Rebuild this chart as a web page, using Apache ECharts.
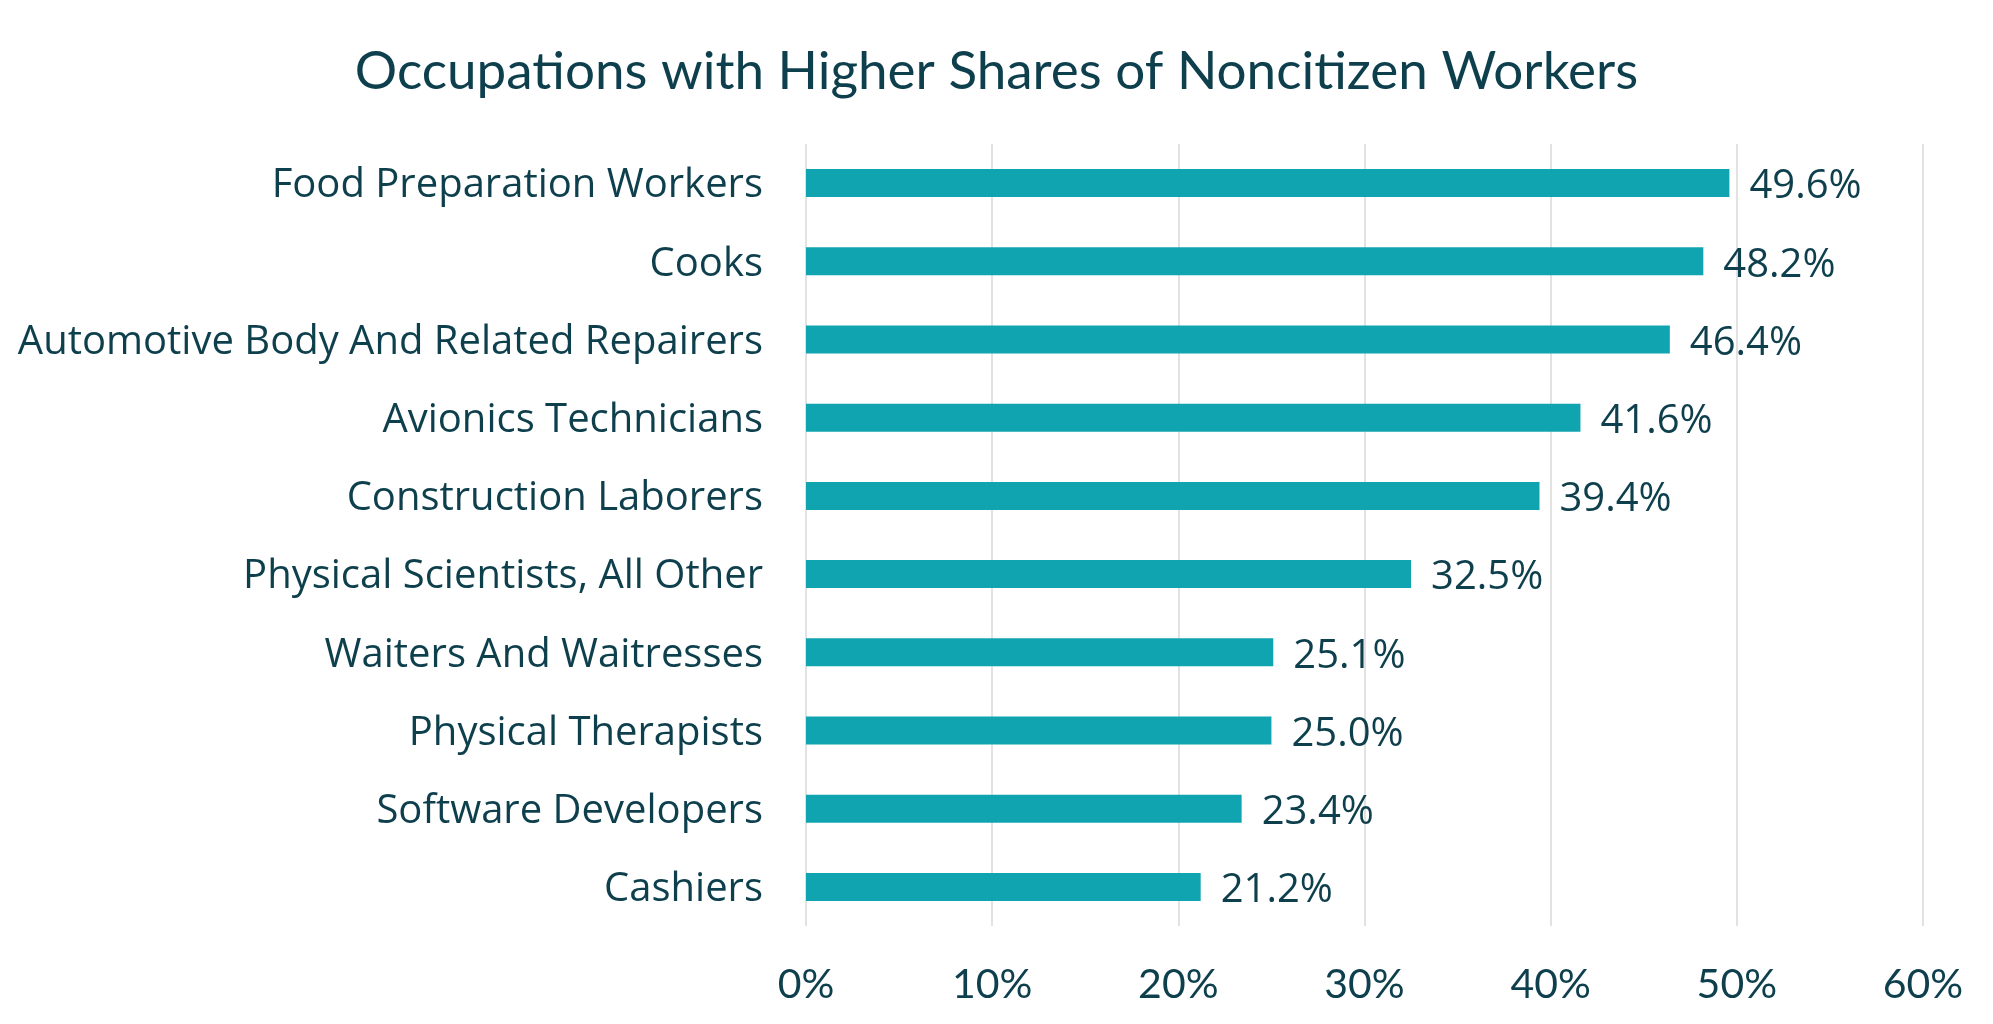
<!DOCTYPE html>
<html><head><meta charset="utf-8">
<script src="https://cdn.jsdelivr.net/npm/echarts@6/dist/echarts.min.js"></script>
<style>html,body{margin:0;padding:0;background:#fff}#c{width:1993px;height:1024px}</style>
</head><body><div id="c"></div>
<script>
const titleText = "Occupations with Higher Shares of Noncitizen Workers";
const categories = ["Food Preparation Workers","Cooks","Automotive Body And Related Repairers","Avionics Technicians","Construction Laborers","Physical Scientists, All Other","Waiters And Waitresses","Physical Therapists","Software Developers","Cashiers"];
const values = [49.6,48.2,46.4,41.6,39.4,32.5,25.1,25.0,23.4,21.2];
const tickMin = 0, tickMax = 60, tickStep = 10;

const textColor = "#0E3F4C";
const chart = echarts.init(document.getElementById('c'));
chart.setOption({
  backgroundColor: '#fff',
  title: { text: titleText, left: 'center', top: 40,
    textStyle: { fontFamily: 'Lato', fontWeight: 'normal', fontSize: 53, color: textColor } },
  grid: { left: 806, right: 70, top: 144, bottom: 98 },
  xAxis: { type: 'value', min: tickMin, max: tickMax, interval: tickStep,
    axisLine: { show: false }, axisTick: { show: false },
    splitLine: { lineStyle: { color: '#D9D9D9', width: 1.5 } },
    axisLabel: { formatter: v => v + '%', fontFamily: 'Lato', fontSize: 41, color: textColor, margin: 38 } },
  yAxis: { type: 'category', data: categories, inverse: true,
    axisLine: { show: false }, axisTick: { show: false },
    axisLabel: { formatter: v => '{a|' + v + '}', margin: 43,
      rich: { a: { fontFamily: 'Open Sans', fontSize: 40, color: textColor, padding: [6, 0, 0, 0] } } } },
  series: [{ type: 'bar', data: values, barWidth: 28,
    itemStyle: { color: '#10A4B1' },
    label: { show: true, position: 'right', distance: 20, offset: [0, 4], formatter: p => p.value.toFixed(1) + '%',
      fontFamily: 'Open Sans', fontSize: 40, color: textColor } }]
});
</script></body></html>
